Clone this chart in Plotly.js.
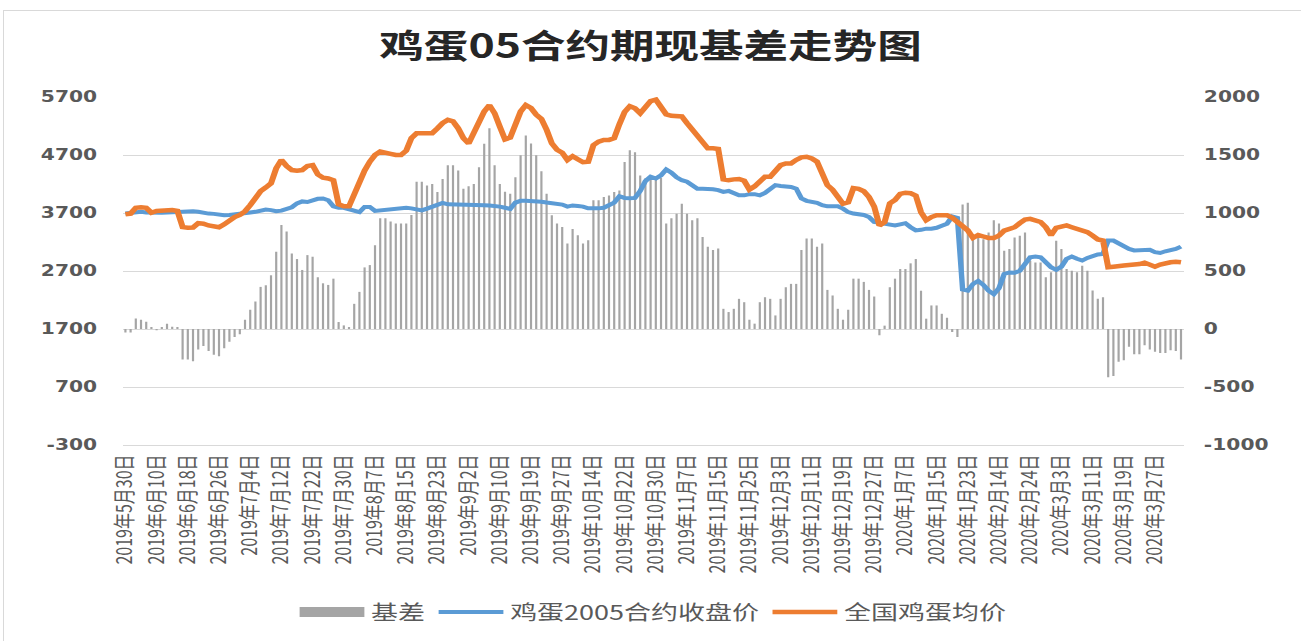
<!DOCTYPE html>
<html>
<head>
<meta charset="utf-8">
<script src="https://cdn.plot.ly/plotly-3.0.1.min.js"></script>
<style>
  html, body { margin:0; padding:0; background:#ffffff; overflow:hidden; }
  #frame { position:absolute; left:3px; top:10px; width:1320px; height:660px; border:1px solid #d9d9d9; box-sizing:border-box; }
  #wrap { position:absolute; left:0; top:0; width:964px; height:641px; transform:scaleX(1.3496); transform-origin:0 0; }
  #chart { width:964px; height:641px; }
</style>
</head>
<body>
<div id="frame"></div>
<div id="wrap"><div id="chart"></div></div>
<script>
// Trading days (year, month, days) -> category labels
const tradeDays = [
  [2019, 5, [30,31]],
  [2019, 6, [3,4,5,6,10,11,12,13,14,17,18,19,20,21,24,25,26,27,28]],
  [2019, 7, [1,2,3,4,5,8,9,10,11,12,15,16,17,18,19,22,23,24,25,26,29,30,31]],
  [2019, 8, [1,2,5,6,7,8,9,12,13,14,15,16,19,20,21,22,23,26,27,28,29,30]],
  [2019, 9, [2,3,4,5,6,9,10,11,12,16,17,18,19,20,23,24,25,26,27,30]],
  [2019, 10, [8,9,10,11,14,15,16,17,18,21,22,23,24,25,28,29,30,31]],
  [2019, 11, [1,4,5,6,7,8,11,12,13,14,15,18,19,20,21,22,25,26,27,28,29]],
  [2019, 12, [2,3,4,5,6,9,10,11,12,13,16,17,18,19,20,23,24,25,26,27,30,31]],
  [2020, 1, [2,3,6,7,8,9,10,13,14,15,16,17,20,21,22,23]],
  [2020, 2, [7,10,11,12,13,14,17,18,19,20,21,24,25,26,27,28]],
  [2020, 3, [2,3,4,5,6,9,10,11,12,13,16,17,18,19,20,23,24,25,26,27,30,31]],
  [2020, 4, [1,2,3]]
];
const categories = [];
tradeDays.forEach(([y, m, ds]) => ds.forEach(d => categories.push(y + '年' + m + '月' + d + '日')));

// 基差 (right axis)
const basis = [
  -30,-30,91,80,63,17,-10,17,46,20,17,-263,-263,-277,-177,-146,-189,-223,-234,-166,
  -109,-69,-46,80,166,237,363,377,463,666,897,840,651,603,509,637,623,446,394,380,
  434,60,31,17,217,320,531,551,723,954,954,926,909,909,909,983,1269,1269,1237,1251,
  1180,1294,1411,1411,1366,1209,1230,1251,1394,1597,1731,1411,1251,1183,1166,1309,1497,1669,1600,1497,
  1360,1166,980,909,880,737,863,809,737,766,1109,1109,1137,1151,1180,1194,1440,1540,1523,1323,
  1300,1317,1317,1303,909,954,994,1080,994,937,954,794,709,680,694,174,146,174,260,231,
  80,46,231,274,260,117,260,360,389,389,680,780,780,709,737,337,289,174,80,166,
  434,434,406,337,280,-54,29,360,434,517,517,566,603,330,89,203,203,131,97,-26,
  -69,1074,1089,789,817,774,831,937,909,674,689,789,803,831,589,574,574,446,489,760,
  689,517,503,489,546,503,331,260,274,-417,-406,-283,-269,-154,-217,-217,-140,-177,-197,-206,
  -206,-183,-189,-263
];

// 鸡蛋2005合约收盘价 (left axis)
const futures = [
  3690,3700,3715,3720,3710,3705,3700,3705,3710,3715,3720,3735,3740,3730,3720,3700,3690,3685,3670,3660,
  3665,3680,3695,3700,3710,3720,3740,3760,3750,3730,3740,3775,3800,3865,3900,3890,3925,3945,3950,3920,
  3815,3790,3790,3765,3745,3715,3805,3805,3735,3745,3750,3760,3770,3775,3790,3780,3760,3745,3775,3805,
  3850,3875,3850,3850,3835,3840,3840,3840,3835,3835,3830,3825,3810,3790,3770,3880,3910,3910,3910,3905,
  3895,3880,3870,3850,3845,3810,3830,3820,3810,3780,3775,3780,3790,3840,3880,3990,3960,3955,3960,4080,
  4250,4325,4295,4350,4450,4395,4315,4265,4240,4180,4120,4120,4120,4110,4095,4065,4080,4045,4005,4005,
  4025,4025,4005,4045,4120,4180,4165,4165,4150,4120,3950,3910,3890,3875,3835,3815,3815,3815,3775,3715,
  3690,3675,3665,3630,3545,3530,3515,3505,3485,3505,3525,3455,3400,3410,3430,3430,3445,3480,3515,3640,
  3615,2380,2360,2475,2530,2460,2360,2300,2405,2650,2675,2670,2705,2820,2935,2950,2935,2850,2765,2720,
  2775,2910,2950,2910,2880,2925,2965,2985,2995,3225,3225,3170,3135,3080,3055,3055,3055,3065,3025,3010,
  3040,3055,3080,3120
];

// 全国鸡蛋均价 (left axis)
const spot = [
  3680,3690,3790,3800,3790,3705,3735,3745,3750,3750,3735,3457,3445,3450,3525,3515,3485,3465,3455,3505,
  3575,3630,3665,3730,3835,3950,4075,4140,4210,4470,4615,4510,4440,4430,4440,4510,4525,4365,4310,4295,
  4265,3850,3815,3815,4035,4265,4430,4585,4700,4760,4730,4720,4700,4700,4775,4990,5075,5075,5075,5075,
  5160,5250,5305,5280,5160,4990,4900,5075,5250,5450,5560,5420,5190,4970,5000,5220,5450,5560,5510,5395,
  5320,5135,4900,4790,4740,4615,4680,4625,4575,4585,4870,4930,4960,4960,4990,5230,5440,5540,5505,5420,
  5530,5630,5655,5540,5400,5375,5375,5365,5250,5135,5020,4915,4815,4815,4805,4280,4265,4280,4285,4255,
  4105,4160,4255,4325,4325,4410,4525,4555,4555,4615,4660,4670,4640,4585,4400,4180,4100,3990,3860,3885,
  4130,4115,4075,3975,3810,3485,3545,3865,3925,4030,4050,4040,4000,3715,3575,3630,3660,3660,3660,3620,
  3545,3455,3400,3270,3320,3295,3270,3270,3310,3395,3430,3455,3525,3585,3600,3575,3545,3455,3315,3445,
  3470,3485,3455,3430,3410,3370,3310,3245,3225,2765,2775,2795,2795,2805,2810,2820,2845,2820,2775,2810,
  2835,2850,2860,2850
];

// Tick labels
const leftTicks = [-300, 700, 1700, 2700, 3700, 4700, 5700];
const leftTickText = ['-300', '700', '1700', '2700', '3700', '4700', '5700'];
const rightTicks = [-1000, -500, 0, 500, 1000, 1500, 2000];
const rightTickText = ['-1000', '-500', '0', '500', '1000', '1500', '2000'];
const xTickLabels = categories.filter((c, i) => i % 6 === 0);

const seriesNames = ['基差', '鸡蛋2005合约收盘价', '全国鸡蛋均价'];
const titleText = '鸡蛋05合约期现基差走势图';

const cjk = '"Noto Sans CJK SC", "Noto Sans", sans-serif';
const tickFontNum = { family: '"DejaVu Sans", sans-serif', size: 15, color: '#595959', weight: 'bold' };
const barColor = '#a5a5a5';

const data = [
  {
    type: 'bar', name: seriesNames[0], x: categories, y: basis, yaxis: 'y',
    marker: { color: barColor }, width: 0.42, showlegend: false, legendgroup: 'basis'
  },
  // legend entry for the bars (wide gray swatch, as in the original legend)
  {
    type: 'scatter', mode: 'lines', name: seriesNames[0], x: [categories[0]], y: [null], yaxis: 'y',
    line: { color: barColor, width: 12 }, showlegend: true, legendgroup: 'basis', hoverinfo: 'skip'
  },
  {
    type: 'scatter', mode: 'lines', name: seriesNames[1], x: categories, y: futures, yaxis: 'y2',
    line: { color: '#5b9bd5', width: 4 }
  },
  {
    type: 'scatter', mode: 'lines', name: seriesNames[2], x: categories, y: spot, yaxis: 'y2',
    line: { color: '#ed7d31', width: 4.5 }
  }
];

const layout = {
  width: 964, height: 641,
  margin: { l: 91, r: 87, t: 97, b: 196, autoexpand: false },
  paper_bgcolor: 'rgba(0,0,0,0)', plot_bgcolor: 'rgba(0,0,0,0)',
  showlegend: true,
  title: {
    text: titleText, x: 0.5, xref: 'container', xanchor: 'center',
    y: 1 - 46 / 641, yref: 'container', yanchor: 'middle',
    font: { family: cjk, size: 33, color: '#262626', weight: 'bold' }
  },
  xaxis: {
    type: 'category', categoryorder: 'array', categoryarray: categories,
    range: [-0.5, categories.length - 0.5],
    tickmode: 'array', tickvals: xTickLabels, ticktext: xTickLabels,
    tickangle: -90, ticks: '', showgrid: false, zeroline: false,
    showline: true, linecolor: '#d9d9d9', linewidth: 1,
    tickfont: { family: cjk, size: 16, color: '#595959' },
    ticklabelstandoff: 2, automargin: false, fixedrange: true
  },
  yaxis: {
    side: 'right', range: [-1000, 2000],
    tickmode: 'array', tickvals: rightTicks, ticktext: rightTickText,
    showgrid: true, gridcolor: '#d9d9d9', gridwidth: 1,
    zeroline: false, showline: false, ticks: '',
    tickfont: tickFontNum, ticklabelstandoff: 14, automargin: false, fixedrange: true
  },
  yaxis2: {
    side: 'left', overlaying: 'y', range: [-300, 5700],
    tickmode: 'array', tickvals: leftTicks, ticktext: leftTickText,
    showgrid: false, zeroline: false, showline: false, ticks: '',
    tickfont: tickFontNum, ticklabelstandoff: 18, automargin: false, fixedrange: true
  },
  legend: {
    orientation: 'h', x: 0.5, xanchor: 'center', xref: 'paper',
    y: (445 - 612) / 348, yanchor: 'middle',
    font: { family: cjk, size: 20, color: '#595959' },
    itemwidth: 48, traceorder: 'normal', bgcolor: 'rgba(0,0,0,0)'
  },
  bargap: 0.5
};

Plotly.newPlot('chart', data, layout, { staticPlot: true, displayModeBar: false });
</script>
</body>
</html>
